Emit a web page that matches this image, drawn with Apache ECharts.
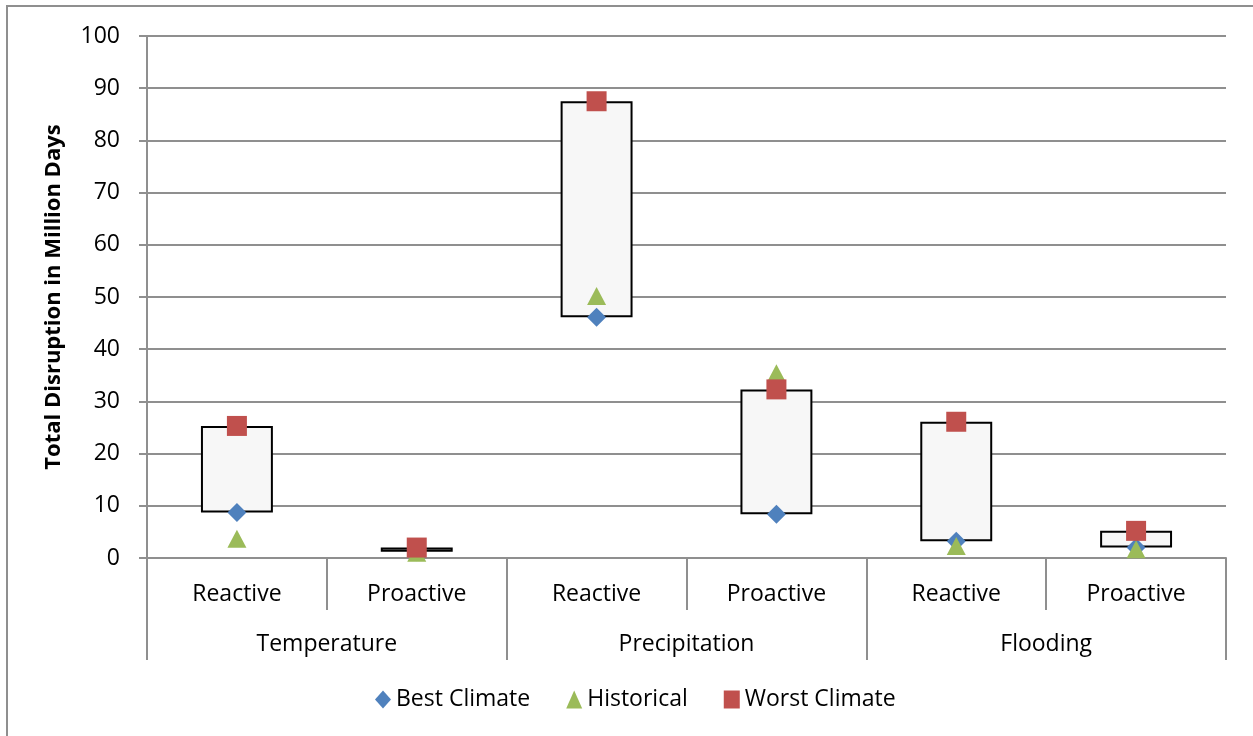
<!DOCTYPE html>
<html>
<head>
<meta charset="utf-8">
<script src="https://cdn.jsdelivr.net/npm/echarts@6/dist/echarts.min.js"></script>
<style>
html,body{margin:0;padding:0;background:#fff;}
#chart{width:1253px;height:736px;}
</style>
</head>
<body>
<div id="chart"></div>
<script>
const categories = ['Reactive','Proactive','Reactive','Proactive','Reactive','Proactive'];
const groups = ['Temperature','Precipitation','Flooding'];
const bestClimate = [8.7, 1.2, 46.1, 8.4, 3.2, 2.0];
const historical = [3.7, 1.0, 50.2, 35.4, 2.3, 1.7];
const worstClimate = [25.3, 2.0, 87.5, 32.3, 26.1, 5.2];
const yTicks = {min: 0, max: 100, interval: 10};

const rangeHeight = worstClimate.map((w, i) => w - bestClimate[i]);
const FONT = '"Open Sans", sans-serif';
const GRAY = '#8f8f8f';

const chart = echarts.init(document.getElementById('chart'), null, {renderer: 'canvas'});
chart.setOption({
  animation: false,
  backgroundColor: '#fff',
  textStyle: {fontFamily: FONT},
  graphic: [{
    type: 'rect', silent: true,
    shape: {x: 7, y: 6, width: 1300, height: 800},
    style: {fill: 'none', stroke: GRAY, lineWidth: 2}
  }],
  grid: {left: 147, right: 27, top: 36, bottom: 178, containLabel: false},
  legend: {
    data: ['Best Climate', 'Historical', 'Worst Climate'],
    bottom: 20, left: 370,
    itemWidth: 16, itemHeight: 18, itemGap: 36,
    textStyle: {fontFamily: FONT, fontSize: 23, color: '#000'}
  },
  xAxis: [{
    type: 'category', data: categories, position: 'bottom',
    axisLine: {show: true, lineStyle: {color: GRAY, width: 2}},
    axisTick: {show: true, interval: 0, length: 52, lineStyle: {color: GRAY, width: 2}},
    axisLabel: {interval: 0, margin: 25, fontSize: 23, color: '#000', fontFamily: FONT}
  }, {
    type: 'category', data: groups, position: 'bottom', gridIndex: 0,
    axisLine: {show: false},
    axisTick: {show: true, interval: 0, length: 102, lineStyle: {color: GRAY, width: 2}},
    axisLabel: {interval: 0, margin: 75, fontSize: 23, color: '#000', fontFamily: FONT}
  }],
  yAxis: {
    type: 'value', min: yTicks.min, max: yTicks.max, interval: yTicks.interval,
    name: 'Total Disruption in Million Days', nameLocation: 'middle', nameGap: 82,
    nameTextStyle: {fontFamily: FONT, fontWeight: 'bold', fontSize: 22, color: '#000'},
    axisLine: {show: true, lineStyle: {color: GRAY, width: 2}},
    axisTick: {show: true, length: 8, lineStyle: {color: GRAY, width: 2}},
    splitLine: {show: true, lineStyle: {color: GRAY, width: 2}},
    axisLabel: {margin: 27, fontSize: 23, color: '#000', fontFamily: FONT}
  },
  series: [{
    name: 'base', type: 'bar', stack: 'range', data: bestClimate, barWidth: '40%',
    itemStyle: {color: 'transparent'}, silent: true
  }, {
    name: 'range', type: 'bar', stack: 'range', data: rangeHeight, barWidth: '40%',
    itemStyle: {color: '#f7f7f7', borderColor: '#000', borderWidth: 2}, silent: true
  }, {
    name: 'Best Climate', type: 'scatter', data: bestClimate, symbol: 'diamond', symbolSize: [19, 19],
    itemStyle: {color: '#4F81BD', opacity: 1}, z: 3
  }, {
    name: 'Historical', type: 'scatter', data: historical, symbol: 'triangle', symbolSize: [19, 18],
    itemStyle: {color: '#9BBB59', opacity: 1}, z: 4
  }, {
    name: 'Worst Climate', type: 'scatter', data: worstClimate, symbol: 'rect', symbolSize: [20, 20],
    itemStyle: {color: '#C0504D', opacity: 1}, z: 5
  }]
});
</script>
</body>
</html>
